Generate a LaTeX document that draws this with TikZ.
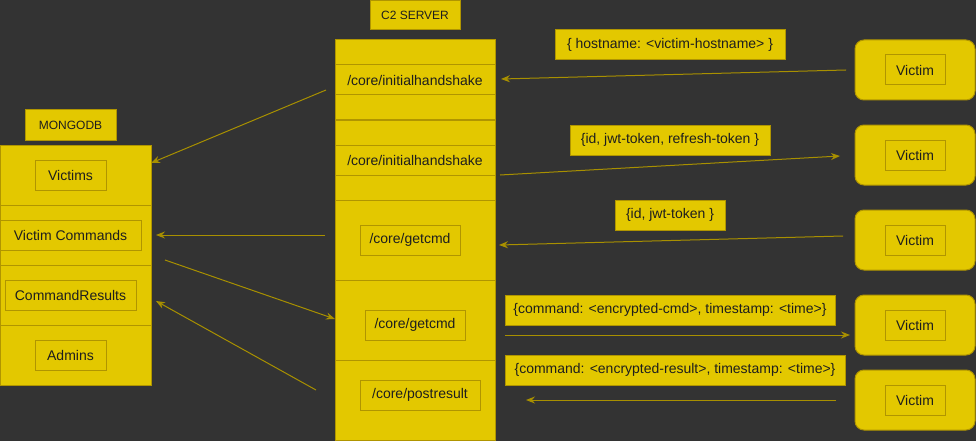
\documentclass[tikz,border=0pt]{standalone}
\usepackage{fontspec}
\setmainfont{Liberation Sans}
\usetikzlibrary{arrows.meta}
\definecolor{bg}{HTML}{333333}
\definecolor{yfill}{HTML}{E3C800}
\definecolor{ystroke}{HTML}{B09500}
\definecolor{arrowc}{HTML}{A89000}
\definecolor{txt}{HTML}{1E1E1E}
\tikzset{
  box/.style={draw=ystroke, fill=yfill, line width=1pt, inner sep=0pt, text=txt,
    font=\fontsize{14}{16}\selectfont},
  inbox/.style={draw=ystroke, line width=1pt, inner sep=0pt, text=txt,
    font=\fontsize{14}{16}\selectfont},
  hdr/.style={box, font=\fontsize{12}{14}\selectfont},
  victim/.style={box, rounded corners=9pt, minimum width=120pt, minimum height=60pt},
  vin/.style={inbox, minimum width=60pt, minimum height=30pt},
  flow/.style={draw=arrowc, line width=1pt, -{Stealth[length=9pt,width=7pt,inset=3pt]}},
}
\begin{document}
\begin{tikzpicture}[x=1pt,y=-1pt]
\fill[bg] (0,0) rectangle (976,441);
\useasboundingbox (0,0) rectangle (976,441);

% MongoDB
\node[hdr, minimum width=91pt, minimum height=30pt] (mlabel) at (70.5,125) {MONGODB};
\node[box, minimum width=151pt, minimum height=60pt] (m1) at (75.5,175) {};
\node[box, minimum width=151pt, minimum height=60pt] (m2) at (75.5,235) {};
\node[box, minimum width=151pt, minimum height=60pt] (m3) at (75.5,295) {};
\node[box, minimum width=151pt, minimum height=60pt] (m4) at (75.5,355) {};
\node[inbox, minimum width=71pt, minimum height=30pt] (victims) at (70.5,175) {Victims};
\node[inbox, minimum width=141pt, minimum height=30pt] (vcmds) at (70.5,235) {Victim Commands};
\node[inbox, minimum width=131pt, minimum height=30pt] (cres) at (70.5,295) {CommandResults};
\node[inbox, minimum width=71pt, minimum height=30pt] (admins) at (70.5,355) {Admins};

% C2 server
\node[hdr, minimum width=90pt, minimum height=29pt] (clabel) at (415,15.5) {C2 SERVER};
\node[box, minimum width=160pt, minimum height=25pt] (c1) at (415,52.5) {};
\node[box, minimum width=160pt, minimum height=30pt] (c2) at (415,80) {/core/initialhandshake};
\node[box, minimum width=160pt, minimum height=25pt] (c3) at (415,107.5) {};
\node[box, minimum width=160pt, minimum height=25pt] (c4) at (415,132.5) {};
\node[box, minimum width=160pt, minimum height=30pt] (c5) at (415,160) {/core/initialhandshake};
\node[box, minimum width=160pt, minimum height=25pt] (c6) at (415,187.5) {};
\node[box, minimum width=160pt, minimum height=80pt] (c7) at (415,240) {};
\node[box, minimum width=160pt, minimum height=80pt] (c8) at (415,320) {};
\node[box, minimum width=160pt, minimum height=80pt] (c9) at (415,400) {};
\node[inbox, minimum width=100pt, minimum height=30pt] (getcmdA) at (410,240) {/core/getcmd};
\node[inbox, minimum width=100pt, minimum height=30pt] (getcmdB) at (415,325) {/core/getcmd};
\node[inbox, minimum width=120pt, minimum height=30pt] (postres) at (420,395) {/core/postresult};

% message labels
\node[box, minimum width=230pt, minimum height=30pt] (l1) at (670,45) {\{ hostname: <victim-hostname> \}};
\node[box, minimum width=200pt, minimum height=30pt] (l2) at (670,140) {\{id, jwt-token, refresh-token \}};
\node[box, minimum width=110pt, minimum height=30pt] (l3) at (670,215) {\{id, jwt-token \}};
\node[box, minimum width=330pt, minimum height=30pt] (l4) at (670,310) {\{command: <encrypted-cmd>, timestamp: <time>\}};
\node[box, minimum width=340pt, minimum height=30pt] (l5) at (675,370) {\{command: <encrypted-result>, timestamp: <time>\}};

% victims
\node[victim] (v1) at (915,70) {};
\node[vin] (v1i) at (915,70) {Victim};
\node[victim] (v2) at (915,155) {};
\node[vin] (v2i) at (915,155) {Victim};
\node[victim] (v3) at (915,240) {};
\node[vin] (v3i) at (915,240) {Victim};
\node[victim] (v4) at (915,325) {};
\node[vin] (v4i) at (915,325) {Victim};
\node[victim] (v5) at (915,400) {};
\node[vin] (v5i) at (915,400) {Victim};

% arrow end points
\coordinate (a1s) at (846,70);  \coordinate (a1e) at (501,79);
\coordinate (a2s) at (500,175); \coordinate (a2e) at (840,156);
\coordinate (a3s) at (843,236); \coordinate (a3e) at (499,245);
\coordinate (a4s) at (505,335); \coordinate (a4e) at (850,335);
\coordinate (a5s) at (836,400); \coordinate (a5e) at (526,400);
\coordinate (b1s) at (326,90);  \coordinate (b1e) at (151,163);
\coordinate (b2s) at (325,235); \coordinate (b2e) at (156,235);
\coordinate (b3s) at (165,260); \coordinate (b3e) at (335,319);
\coordinate (b4s) at (316,390); \coordinate (b4e) at (156,301);

\draw[flow] (a1s) -- (a1e);
\draw[flow] (a2s) -- (a2e);
\draw[flow] (a3s) -- (a3e);
\draw[flow] (a4s) -- (a4e);
\draw[flow] (a5s) -- (a5e);
\draw[flow] (b1s) -- (b1e);
\draw[flow] (b2s) -- (b2e);
\draw[flow] (b3s) -- (b3e);
\draw[flow] (b4s) -- (b4e);
\end{tikzpicture}
\end{document}
